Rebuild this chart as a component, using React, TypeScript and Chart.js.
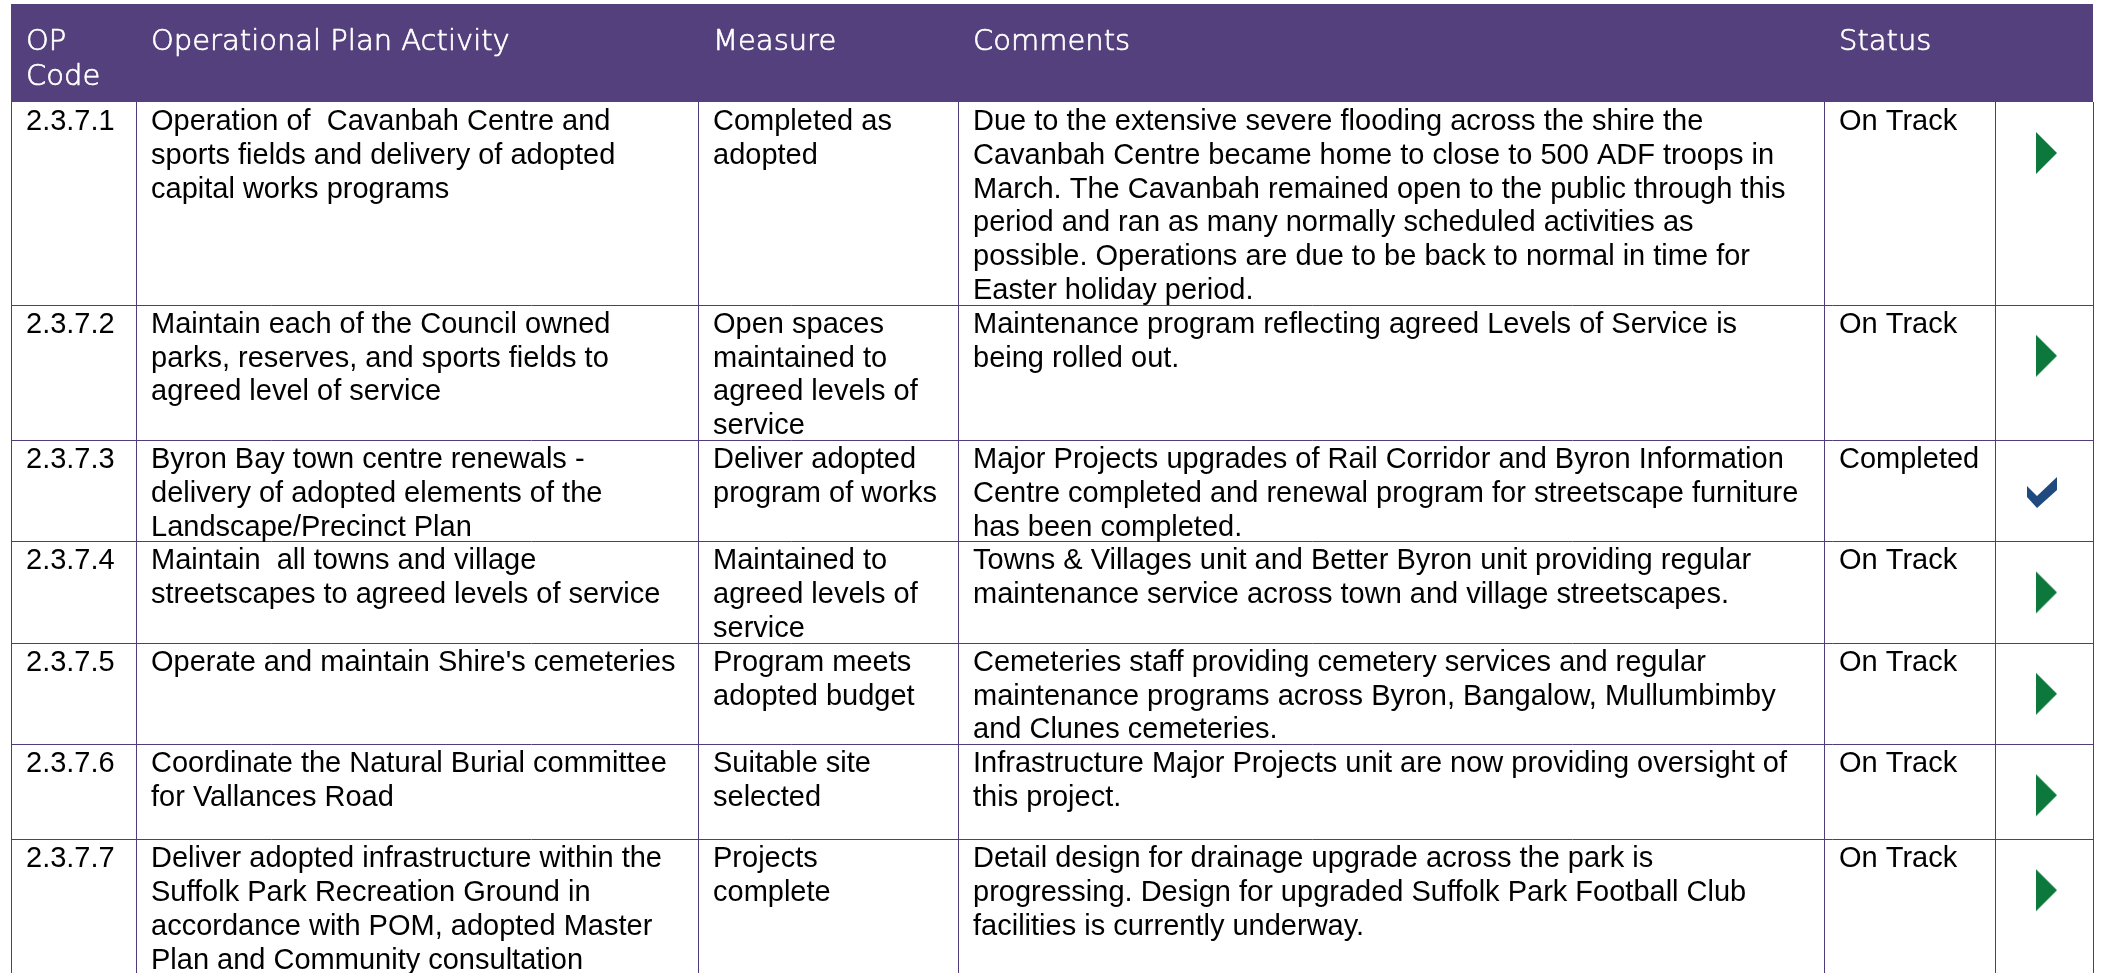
import React, { useEffect, useRef } from "react";
import { Chart, registerables } from "chart.js";

Chart.register(...registerables);

// ---------- data ----------
const headerLabels: string[][] = [
  ["OP", "Code"],
  ["Operational Plan Activity"],
  ["Measure"],
  ["Comments"],
  ["Status"],
  [""],
];

const opCodes: string[] = ["2.3.7.1", "2.3.7.2", "2.3.7.3", "2.3.7.4", "2.3.7.5", "2.3.7.6", "2.3.7.7"];

const activities: string[][] = [
  ["Operation of  Cavanbah Centre and", "sports fields and delivery of adopted", "capital works programs"],
  ["Maintain each of the Council owned", "parks, reserves, and sports fields to", "agreed level of service"],
  ["Byron Bay town centre renewals -", "delivery of adopted elements of the", "Landscape/Precinct Plan"],
  ["Maintain  all towns and village", "streetscapes to agreed levels of service"],
  ["Operate and maintain Shire's cemeteries"],
  ["Coordinate the Natural Burial committee", "for Vallances Road"],
  [
    "Deliver adopted infrastructure within the",
    "Suffolk Park Recreation Ground in",
    "accordance with POM, adopted Master",
    "Plan and Community consultation",
  ],
];

const measures: string[][] = [
  ["Completed as", "adopted"],
  ["Open spaces", "maintained to", "agreed levels of", "service"],
  ["Deliver adopted", "program of works"],
  ["Maintained to", "agreed levels of", "service"],
  ["Program meets", "adopted budget"],
  ["Suitable site", "selected"],
  ["Projects", "complete"],
];

const comments: string[][] = [
  [
    "Due to the extensive severe flooding across the shire the",
    "Cavanbah Centre became home to close to 500 ADF troops in",
    "March. The Cavanbah remained open to the public through this",
    "period and ran as many normally scheduled activities as",
    "possible. Operations are due to be back to normal in time for",
    "Easter holiday period.",
  ],
  ["Maintenance program reflecting agreed Levels of Service is", "being rolled out."],
  [
    "Major Projects upgrades of Rail Corridor and Byron Information",
    "Centre completed and renewal program for streetscape furniture",
    "has been completed.",
  ],
  [
    "Towns & Villages unit and Better Byron unit providing regular",
    "maintenance service across town and village streetscapes.",
  ],
  [
    "Cemeteries staff providing cemetery services and regular",
    "maintenance programs across Byron, Bangalow, Mullumbimby",
    "and Clunes cemeteries.",
  ],
  ["Infrastructure Major Projects unit are now providing oversight of", "this project."],
  [
    "Detail design for drainage upgrade across the park is",
    "progressing. Design for upgraded Suffolk Park Football Club",
    "facilities is currently underway.",
  ],
];

const statuses: string[] = ["On Track", "On Track", "Completed", "On Track", "On Track", "On Track", "On Track"];

// ---------- layout & style ----------
const W = 2101;
const H = 973;
const COL_EDGES = [11, 136, 698, 958, 1824, 1995, 2093];
const HEADER_TOP = 4;
const HEADER_BOTTOM = 102;
const HEADER_BASE = 50;
const HEADER_LINE = 35;
const LINE_H = 33.8;
const MIN_ROW_H = 95;
const TEXT_PAD = 15;
const FIRST_BASELINE = 28;
const ICON_DY = 51;

const PURPLE = "#54407c";
const GRID = "#4f3c7c";
const GREEN = "#0d783c";
const NAVY = "#1f4a7f";
const BODY_FONT = "29px 'Liberation Sans', Arial, sans-serif";
const HEAD_FONT = "300 29px 'DejaVu Sans', sans-serif";

function rowTops(): number[] {
  const tops: number[] = [HEADER_BOTTOM];
  opCodes.forEach((_, i) => {
    const lines = Math.max(activities[i].length, measures[i].length, comments[i].length, 1);
    const h = Math.max(lines * LINE_H, MIN_ROW_H);
    tops.push(tops[tops.length - 1] + h);
  });
  return tops;
}

function makeIcon(kind: string): HTMLCanvasElement {
  const c = document.createElement("canvas");
  c.width = 60;
  c.height = 60;
  const g = c.getContext("2d")!;
  g.translate(30, 30);
  g.beginPath();
  if (kind === "Completed") {
    g.fillStyle = NAVY;
    g.moveTo(-17, -5);
    g.lineTo(-7, 5);
    g.lineTo(13, -14);
    g.lineTo(13, -1);
    g.lineTo(-7, 17);
    g.lineTo(-17, 6);
  } else {
    g.fillStyle = GREEN;
    g.moveTo(-8, -21);
    g.lineTo(13, 0);
    g.lineTo(-8, 21);
  }
  g.closePath();
  g.fill();
  return c;
}

const tablePlugin = {
  id: "tableGrid",
  beforeDatasetsDraw(chart: any) {
    const { ctx } = chart;
    const sx = chart.scales.x;
    const sy = chart.scales.y;
    const px = (v: number) => sx.getPixelForValue(v);
    const py = (v: number) => sy.getPixelForValue(v);
    const tops = rowTops();
    const left = px(COL_EDGES[0]);
    const right = px(COL_EDGES[COL_EDGES.length - 1]);

    ctx.save();
    // header band
    ctx.fillStyle = PURPLE;
    ctx.fillRect(left, py(HEADER_TOP), right - left, py(HEADER_BOTTOM) - py(HEADER_TOP));

    // header labels
    ctx.fillStyle = "#ffffff";
    ctx.strokeStyle = "#ffffff";
    ctx.lineWidth = 0.7;
    ctx.lineJoin = "round";
    ctx.font = HEAD_FONT;
    ctx.textBaseline = "alphabetic";
    ctx.textAlign = "left";
    headerLabels.forEach((lines, c) => {
      lines.forEach((t, j) => {
        const tx = px(COL_EDGES[c] + TEXT_PAD);
        const ty = py(HEADER_BASE + j * HEADER_LINE);
        ctx.fillText(t, tx, ty);
        ctx.strokeText(t, tx, ty);
      });
    });

    // grid lines
    ctx.strokeStyle = GRID;
    ctx.lineWidth = 1;
    ctx.beginPath();
    for (let r = 1; r < tops.length; r++) {
      const yy = Math.round(py(tops[r])) + 0.5;
      ctx.moveTo(left, yy);
      ctx.lineTo(right, yy);
    }
    const bottom = Math.max(py(tops[tops.length - 1]), chart.height + 5);
    COL_EDGES.forEach((e) => {
      const xx = Math.round(px(e)) + 0.5;
      ctx.moveTo(xx, py(HEADER_BOTTOM));
      ctx.lineTo(xx, bottom);
    });
    ctx.stroke();

    // body text
    ctx.fillStyle = "#000000";
    ctx.font = BODY_FONT;
    opCodes.forEach((code, i) => {
      const cells: string[][] = [[code], activities[i], measures[i], comments[i], [statuses[i]]];
      cells.forEach((lines, c) => {
        lines.forEach((t, j) => {
          ctx.fillText(t, px(COL_EDGES[c] + TEXT_PAD), py(tops[i] + FIRST_BASELINE + j * LINE_H));
        });
      });
    });
    ctx.restore();
  },
};

export default function App() {
  const ref = useRef<HTMLCanvasElement | null>(null);

  useEffect(() => {
    document.body.style.margin = "0";
    document.body.style.background = "#ffffff";
    const canvas = ref.current;
    if (!canvas) return;
    const tops = rowTops();
    const iconX = (COL_EDGES[5] + COL_EDGES[6]) / 2;
    const icons = statuses.map((s) => makeIcon(s));
    const chart = new Chart(canvas, {
      type: "scatter",
      data: {
        datasets: [
          {
            label: "Status",
            data: statuses.map((_, i) => ({ x: iconX, y: tops[i] + ICON_DY })),
            pointStyle: icons as any,
            pointRadius: 5,
            pointHoverRadius: 5,
            clip: false as any,
          },
        ],
      },
      options: {
        animation: false,
        responsive: false,
        devicePixelRatio: 1,
        events: [],
        layout: { padding: 0, autoPadding: false },
        plugins: { legend: { display: false }, tooltip: { enabled: false } },
        scales: {
          x: { type: "linear", min: 0, max: W, display: false },
          y: { type: "linear", min: 0, max: H, reverse: true, display: false },
        },
      },
      plugins: [tablePlugin],
    });
    return () => chart.destroy();
  }, []);

  return (
    <div style={{ width: W, height: H, overflow: "hidden", background: "#fff" }}>
      <canvas ref={ref} width={W} height={H} style={{ display: "block", width: W, height: H }} />
    </div>
  );
}
